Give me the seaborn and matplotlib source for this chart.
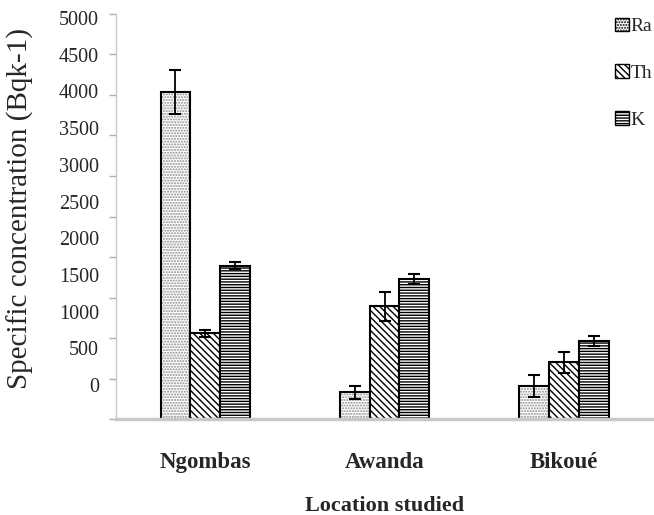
import numpy as np
import pandas as pd
import matplotlib.pyplot as plt
import seaborn as sns
from matplotlib.patches import Patch

# data
locations = ["Ngombas", "Awanda", "Bikoué"]
isotopes = ["Ra", "Th", "K"]
ra_values = [4040, 330, 405]
th_values = [1060, 1395, 700]
k_values = [1895, 1730, 965]
ra_errors = [270, 85, 135]
th_errors = [40, 180, 125]
k_errors = [40, 65, 65]
ytick_labels = ["0", "500", "1000", "1500", "2000", "2500", "3000", "3500", "4000", "4500", "5000"]

df = pd.DataFrame({
    "Location": locations * 3,
    "Isotope": np.repeat(isotopes, 3),
    "Value": ra_values + th_values + k_values,
})
errors = {"Ra": ra_errors, "Th": th_errors, "K": k_errors}
hatches = {"Ra": "......", "Th": "\\\\\\\\\\", "K": "------"}

sns.set_style("white")
plt.rcParams["font.family"] = ["Liberation Serif", "DejaVu Serif"]
plt.rcParams["hatch.linewidth"] = 1.0

fig = plt.figure(figsize=(6.54, 5.15), dpi=100)
ax = fig.add_axes([0.177, 0.186, 0.822, 0.787])

sns.barplot(data=df, x="Location", y="Value", hue="Isotope", order=locations,
            hue_order=isotopes, palette=["white"] * 3, edgecolor="black",
            linewidth=1.5, width=0.5, errorbar=None, legend=False, ax=ax)

for iso, cont in zip(isotopes, ax.containers):
    for bar, err in zip(cont, errors[iso]):
        bar.set_hatch(hatches[iso])
        if iso == "Ra":
            bar._hatch_color = (0.55, 0.55, 0.55, 1.0)
        cx = bar.get_x() + bar.get_width() / 2
        ax.errorbar(cx, bar.get_height(), yerr=err, color="black",
                    capsize=4, elinewidth=1.3, capthick=1.5)

ax.set_xlim(-0.5, 2.5)
ax.set_ylim(0, 5000)

# tick marks every 500, labels drawn slightly shifted as in the original
ax.set_yticks(np.arange(0, 5001, 500))
ax.set_yticklabels([])
ax.set_yticks(420 + np.arange(11) * 453, ytick_labels, minor=True)
ax.tick_params(axis="y", which="major", left=True, length=5, color="#b0b0b0", width=1)
ax.tick_params(axis="y", which="minor", left=True, length=0, pad=12, labelsize=14.5)
ax.tick_params(axis="x", bottom=False, pad=20)
for lab in ax.get_xticklabels():
    lab.set_fontweight("bold")
    lab.set_fontsize(16.5)

for side in ["top", "right"]:
    ax.spines[side].set_visible(False)
ax.spines["left"].set_color("#c8c8c8")
ax.spines["left"].set_linewidth(1)
ax.spines["bottom"].set_color("#c8c8c8")
ax.spines["bottom"].set_linewidth(2.5)

ax.set_ylabel("Specific concentration (Bqk-1)", fontsize=21)
ax.yaxis.set_label_coords(-0.152, 0.52)
ax.set_xlabel("Location studied", fontsize=16, fontweight="bold", labelpad=17)

handles = [Patch(facecolor="white", edgecolor="black", hatch=hatches[i], label=i)
           for i in isotopes]
leg = ax.legend(handles=handles, loc="upper left", bbox_to_anchor=(0.914, 1.01),
                frameon=False, fontsize=14, handlelength=0.7, handleheight=0.7,
                handletextpad=0.1, labelspacing=1.5, borderaxespad=0)

plt.savefig("out.png", dpi=100)
plt.close()
